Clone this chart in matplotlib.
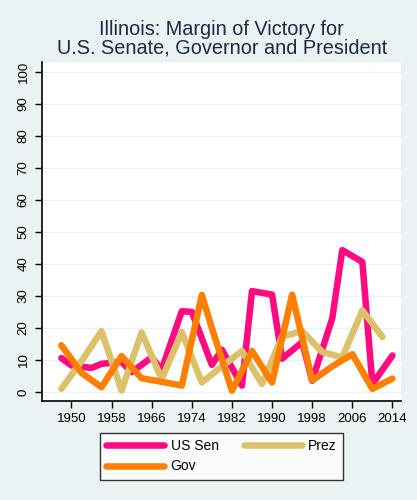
import matplotlib
matplotlib.use("Agg")
import matplotlib.pyplot as plt

plt.rcParams['font.family'] = ['Liberation Sans', 'DejaVu Sans']

title = "Illinois: Margin of Victory for\nU.S. Senate, Governor and President"

sen_years = [1948, 1950, 1954, 1956, 1960, 1962, 1966, 1968, 1972, 1974, 1978, 1980,
             1984, 1986, 1990, 1992, 1996, 1998, 2002, 2004, 2008, 2010, 2014]
sen_vals = [10.6, 8.3, 7.5, 8.8, 9.4, 6.2, 10.8, 7.0, 25.2, 25.0, 8.5, 13.2,
            2.0, 31.5, 30.4, 10.4, 15.6, 3.5, 23.0, 44.3, 40.6, 2.5, 11.4]

prez_years = [1948, 1952, 1956, 1960, 1964, 1968, 1972, 1976, 1980, 1984, 1988,
              1992, 1996, 2000, 2004, 2008, 2012]
prez_vals = [1.0, 9.6, 19.0, 0.5, 18.6, 4.0, 18.7, 3.0, 8.0, 12.8, 2.5,
             17.3, 19.0, 12.5, 10.8, 25.5, 17.2]

gov_years = [1948, 1952, 1956, 1960, 1964, 1968, 1972, 1976, 1978, 1982, 1986,
             1990, 1994, 1998, 2002, 2006, 2010, 2014]
gov_vals = [14.6, 6.0, 1.5, 11.2, 4.3, 3.2, 2.0, 30.3, 20.0, 0.4, 12.8,
            3.0, 30.4, 3.6, 8.0, 11.8, 1.0, 4.2]

x_ticks = list(range(1950, 2015, 8))
y_ticks = list(range(0, 101, 10))

c_sen = "#FF0A80"
c_prez = "#DBC26A"
c_gov = "#FF8000"
bg = "#EAF2F3"

fig = plt.figure(figsize=(4.17, 5.0), dpi=100, facecolor=bg)
ax = fig.add_axes([0.1014, 0.198, 0.8602, 0.678])
ax.set_facecolor("white")

lw = 4.7
kw = dict(linewidth=lw, solid_capstyle='round', solid_joinstyle='round')
l1, = ax.plot(sen_years, sen_vals, color=c_sen, label="US Sen", **kw)
l2, = ax.plot(prez_years, prez_vals, color=c_prez, label="Prez", **kw)
l3, = ax.plot(gov_years, gov_vals, color=c_gov, label="Gov", **kw)

ax.set_xlim(1944.2, 2015.7)
ax.set_ylim(-2.8, 103)
ax.set_xticks(x_ticks)
ax.set_yticks(y_ticks)
ax.set_yticklabels([str(v) for v in y_ticks], rotation=90, va='center')
ax.tick_params(axis='both', direction='out', length=5, width=1, colors='black',
               labelsize=9.5)
ax.tick_params(axis='y', pad=4)
ax.grid(axis='y', color=bg, linewidth=1)
ax.set_axisbelow(True)
for s in ['top', 'right']:
    ax.spines[s].set_visible(False)
for s in ['left', 'bottom']:
    ax.spines[s].set_color('black')
    ax.spines[s].set_linewidth(1.2)

ax.set_title(title, fontsize=14.3, color="#1B2A41", pad=6, linespacing=0.95)

leg = fig.legend(handles=[l1, l3, l2], labels=["US Sen", "Gov", "Prez"], ncol=2,
                 loc='center', bbox_to_anchor=(221.5 / 417, 1 - 456.3 / 500),
                 frameon=True, fancybox=False, edgecolor='black', facecolor='white',
                 fontsize=10, handlelength=4.2, columnspacing=1.8, handletextpad=0.45,
                 borderpad=0.45, labelspacing=0.45, borderaxespad=0)
leg.get_frame().set_linewidth(1)

fig.savefig("out.png", dpi=100, facecolor=bg)
